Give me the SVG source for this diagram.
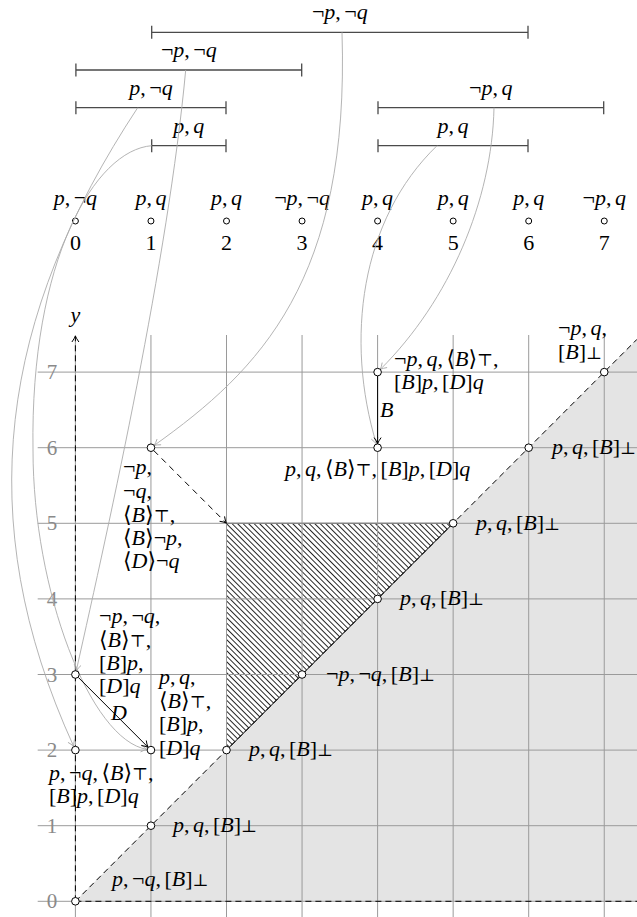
<svg xmlns="http://www.w3.org/2000/svg" width="637" height="917" viewBox="0 0 637 917">
<style>
.t{font-family:"Liberation Serif","DejaVu Serif",serif;font-size:22px;word-spacing:-2px;fill:#000}
.i{font-style:italic}
.s{font-family:"DejaVu Serif","DejaVu Sans",serif;font-size:17px;font-style:normal}
.c{text-anchor:middle}
.g{fill:#8a8a8a;text-anchor:middle;font-size:21px}
.grid{stroke:#9a9a9a;stroke-width:1;fill:none}
.bar{stroke:#4a4a4a;stroke-width:1.3;fill:none}
.cur{stroke:#ababab;stroke-width:0.9;fill:none;marker-end:url(#ag)}
.edge{stroke:#000;stroke-width:1;fill:none;marker-end:url(#ab)}
.dash{stroke:#000;stroke-width:1;fill:none;stroke-dasharray:6 4}
.nd{fill:#fff;stroke:#000;stroke-width:1}
</style>
<defs>
<pattern id="hatch" patternUnits="userSpaceOnUse" width="3.9" height="10" patternTransform="rotate(-45)">
<line x1="0.5" y1="0" x2="0.5" y2="10" stroke="#000" stroke-width="0.85"/>
</pattern>
<marker id="ag" markerUnits="userSpaceOnUse" markerWidth="12" markerHeight="12" refX="0" refY="0" orient="auto" overflow="visible">
<path d="M-6,-3.5 Q-2.5,-1 0,0 Q-2.5,1 -6,3.5" fill="none" stroke="#ababab" stroke-width="0.9"/>
</marker>
<marker id="ab" markerUnits="userSpaceOnUse" markerWidth="12" markerHeight="12" refX="0" refY="0" orient="auto" overflow="visible">
<path d="M-6,-3.5 Q-2.5,-1 0,0 Q-2.5,1 -6,3.5" fill="none" stroke="#000" stroke-width="1" stroke-dasharray="none"/>
</marker>
</defs>

<rect width="637" height="917" fill="#fff"/>

<!-- background regions -->
<polygon points="75.4,901.3 637,339.3 637,901.3" fill="#e4e4e4"/>
<polygon points="226.5,523.3 453.15,523.3 226.5,750.1" fill="url(#hatch)" stroke="#000" stroke-width="1"/>

<!-- grid -->
<g id="grid" class="grid">
<line x1="75.4" y1="335" x2="75.4" y2="917"/>
<line x1="150.95" y1="335" x2="150.95" y2="917"/>
<line x1="226.5" y1="335" x2="226.5" y2="917"/>
<line x1="302.05" y1="335" x2="302.05" y2="917"/>
<line x1="377.6" y1="335" x2="377.6" y2="917"/>
<line x1="453.15" y1="335" x2="453.15" y2="917"/>
<line x1="528.7" y1="335" x2="528.7" y2="917"/>
<line x1="604.25" y1="335" x2="604.25" y2="917"/>
<line x1="37.7" y1="901.3" x2="637" y2="901.3"/>
<line x1="37.7" y1="825.7" x2="637" y2="825.7"/>
<line x1="37.7" y1="750.1" x2="637" y2="750.1"/>
<line x1="37.7" y1="674.5" x2="637" y2="674.5"/>
<line x1="37.7" y1="598.9" x2="637" y2="598.9"/>
<line x1="37.7" y1="523.3" x2="637" y2="523.3"/>
<line x1="37.7" y1="447.7" x2="637" y2="447.7"/>
<line x1="37.7" y1="372.1" x2="637" y2="372.1"/>
</g>
<g id="ylabels" class="t g">
<text x="52" y="908.3">0</text>
<text x="52" y="832.7">1</text>
<text x="52" y="757.1">2</text>
<text x="52" y="681.5">3</text>
<text x="52" y="605.9">4</text>
<text x="52" y="530.3">5</text>
<text x="52" y="454.7">6</text>
<text x="52" y="379.1">7</text>
</g>

<!-- axes -->
<g id="axes">
<line class="dash" x1="75.4" y1="901.3" x2="637" y2="901.3"/>
<line class="dash" x1="75.4" y1="901.3" x2="637" y2="339.3"/>
<line class="dash" x1="75.4" y1="901.3" x2="75.4" y2="336" marker-end="url(#ab)"/>
<text class="t i c" x="75.4" y="322">y</text>
</g>

<!-- intervals -->
<g id="iv1">
<path class="bar" d="M151.7,32.3 H528 M151.7,25.8 V38.8 M528,25.8 V38.8"/>
<text class="t c" x="339.8" y="19.3">¬<tspan class="i">p</tspan>, ¬<tspan class="i">q</tspan></text>
</g>
<g id="iv2">
<path class="bar" d="M75.9,70 H301.7 M75.9,63.5 V76.5 M301.7,63.5 V76.5"/>
<text class="t c" x="188.8" y="57">¬<tspan class="i">p</tspan>, ¬<tspan class="i">q</tspan></text>
</g>
<g id="iv3">
<path class="bar" d="M75.9,107.7 H226 M75.9,101.2 V114.2 M226,101.2 V114.2"/>
<text class="t c" x="151" y="94.7"><tspan class="i">p</tspan>, ¬<tspan class="i">q</tspan></text>
</g>
<g id="iv4">
<path class="bar" d="M151.7,145.7 H226 M151.7,139.2 V152.2 M226,139.2 V152.2"/>
<text class="t c" x="188.8" y="132.7"><tspan class="i">p</tspan>, <tspan class="i">q</tspan></text>
</g>
<g id="iv5">
<path class="bar" d="M378,107.7 H603.7 M378,101.2 V114.2 M603.7,101.2 V114.2"/>
<text class="t c" x="490.8" y="94.7">¬<tspan class="i">p</tspan>, <tspan class="i">q</tspan></text>
</g>
<g id="iv6">
<path class="bar" d="M378,145.7 H528 M378,139.2 V152.2 M528,139.2 V152.2"/>
<text class="t c" x="453" y="132.7"><tspan class="i">p</tspan>, <tspan class="i">q</tspan></text>
</g>

<!-- number line points -->
<g id="pt0"><circle class="nd" cx="75.4" cy="221" r="3"/><text class="t c" x="75.4" y="205"><tspan class="i">p</tspan>, ¬<tspan class="i">q</tspan></text><text class="t c" x="75.4" y="250">0</text></g>
<g id="pt1"><circle class="nd" cx="150.95" cy="221" r="3"/><text class="t c" x="150.95" y="205"><tspan class="i">p</tspan>, <tspan class="i">q</tspan></text><text class="t c" x="150.95" y="250">1</text></g>
<g id="pt2"><circle class="nd" cx="226.5" cy="221" r="3"/><text class="t c" x="226.5" y="205"><tspan class="i">p</tspan>, <tspan class="i">q</tspan></text><text class="t c" x="226.5" y="250">2</text></g>
<g id="pt3"><circle class="nd" cx="302.05" cy="221" r="3"/><text class="t c" x="302.05" y="205">¬<tspan class="i">p</tspan>, ¬<tspan class="i">q</tspan></text><text class="t c" x="302.05" y="250">3</text></g>
<g id="pt4"><circle class="nd" cx="377.6" cy="221" r="3"/><text class="t c" x="377.6" y="205"><tspan class="i">p</tspan>, <tspan class="i">q</tspan></text><text class="t c" x="377.6" y="250">4</text></g>
<g id="pt5"><circle class="nd" cx="453.15" cy="221" r="3"/><text class="t c" x="453.15" y="205"><tspan class="i">p</tspan>, <tspan class="i">q</tspan></text><text class="t c" x="453.15" y="250">5</text></g>
<g id="pt6"><circle class="nd" cx="528.7" cy="221" r="3"/><text class="t c" x="528.7" y="205"><tspan class="i">p</tspan>, <tspan class="i">q</tspan></text><text class="t c" x="528.7" y="250">6</text></g>
<g id="pt7"><circle class="nd" cx="604.25" cy="221" r="3"/><text class="t c" x="604.25" y="205">¬<tspan class="i">p</tspan>, <tspan class="i">q</tspan></text><text class="t c" x="604.25" y="250">7</text></g>

<!-- connectors -->
<g id="connectors">
<path class="cur" d="M137.7,107.7 C0.5,315.5 -30.5,518.5 73.7,746.4"/>
<path class="cur" d="M151.7,145.7 C95,150 30,260 33,450 C33,590 90,740 147,749.4"/>
<path class="cur" d="M185.7,70 C168,260 110,520 76.3,670.6"/>
<path class="cur" d="M342,32.3 C350,280 260,370 154.2,445.4"/>
<path class="cur" d="M494,107.7 C492,200 450,300 380.4,369.3"/>
<path class="cur" d="M437,145.7 C360,220 345,340 376.4,443.9"/>
<line class="edge" x1="377.6" y1="376" x2="377.6" y2="443.6"/>
<line class="edge" x1="78.3" y1="677.4" x2="148" y2="747.2"/>
<line class="edge" x1="153.8" y1="450.6" x2="226.3" y2="523.1" stroke-dasharray="6 5"/>
<text class="t i" x="380" y="417">B</text>
<text class="t i" x="111" y="719.5">D</text>
</g>

<!-- grid nodes -->
<g id="n00"><circle class="nd" cx="75.4" cy="901.3" r="3.8"/>
<text class="t" x="112" y="886"><tspan class="i">p</tspan>, ¬<tspan class="i">q</tspan>, [<tspan class="i">B</tspan>]<tspan class="s">⊥</tspan></text></g>
<g id="n11"><circle class="nd" cx="150.95" cy="825.7" r="3.8"/>
<text class="t" x="173" y="832"><tspan class="i">p</tspan>, <tspan class="i">q</tspan>, [<tspan class="i">B</tspan>]<tspan class="s">⊥</tspan></text></g>
<g id="n22"><circle class="nd" cx="226.5" cy="750.1" r="3.8"/>
<text class="t" x="249" y="756"><tspan class="i">p</tspan>, <tspan class="i">q</tspan>, [<tspan class="i">B</tspan>]<tspan class="s">⊥</tspan></text></g>
<g id="n33"><circle class="nd" cx="302.05" cy="674.5" r="3.8"/>
<text class="t" x="326" y="681">¬<tspan class="i">p</tspan>, ¬<tspan class="i">q</tspan>, [<tspan class="i">B</tspan>]<tspan class="s">⊥</tspan></text></g>
<g id="n44"><circle class="nd" cx="377.6" cy="598.9" r="3.8"/>
<text class="t" x="400" y="605"><tspan class="i">p</tspan>, <tspan class="i">q</tspan>, [<tspan class="i">B</tspan>]<tspan class="s">⊥</tspan></text></g>
<g id="n55"><circle class="nd" cx="453.15" cy="523.3" r="3.8"/>
<text class="t" x="476" y="530"><tspan class="i">p</tspan>, <tspan class="i">q</tspan>, [<tspan class="i">B</tspan>]<tspan class="s">⊥</tspan></text></g>
<g id="n66"><circle class="nd" cx="528.7" cy="447.7" r="3.8"/>
<text class="t" x="552" y="454"><tspan class="i">p</tspan>, <tspan class="i">q</tspan>, [<tspan class="i">B</tspan>]<tspan class="s">⊥</tspan></text></g>
<g id="n77"><circle class="nd" cx="604.25" cy="372.1" r="3.8"/>
<text class="t"><tspan x="558" y="335">¬<tspan class="i">p</tspan>, <tspan class="i">q</tspan>,</tspan><tspan x="558" y="359">[<tspan class="i">B</tspan>]<tspan class="s">⊥</tspan></tspan></text></g>
<g id="n47"><circle class="nd" cx="377.6" cy="372.1" r="3.8"/>
<text class="t"><tspan x="394" y="366">¬<tspan class="i">p</tspan>, <tspan class="i">q</tspan>, ⟨<tspan class="i">B</tspan>⟩<tspan class="s">⊤</tspan>,</tspan><tspan x="394" y="389">[<tspan class="i">B</tspan>]<tspan class="i">p</tspan>, [<tspan class="i">D</tspan>]<tspan class="i">q</tspan></tspan></text></g>
<g id="n46"><circle class="nd" cx="377.6" cy="447.7" r="3.8"/>
<text class="t c" x="377.6" y="476"><tspan class="i">p</tspan>, <tspan class="i">q</tspan>, ⟨<tspan class="i">B</tspan>⟩<tspan class="s">⊤</tspan>, [<tspan class="i">B</tspan>]<tspan class="i">p</tspan>, [<tspan class="i">D</tspan>]<tspan class="i">q</tspan></text></g>
<g id="n16"><circle class="nd" cx="150.95" cy="447.7" r="3.8"/>
<text class="t"><tspan x="123" y="474">¬<tspan class="i">p</tspan>,</tspan><tspan x="123" y="498">¬<tspan class="i">q</tspan>,</tspan><tspan x="123" y="522">⟨<tspan class="i">B</tspan>⟩<tspan class="s">⊤</tspan>,</tspan><tspan x="123" y="545">⟨<tspan class="i">B</tspan>⟩¬<tspan class="i">p</tspan>,</tspan><tspan x="123" y="568">⟨<tspan class="i">D</tspan>⟩¬<tspan class="i">q</tspan></tspan></text></g>
<g id="n03"><circle class="nd" cx="75.4" cy="674.5" r="3.8"/>
<text class="t"><tspan x="99" y="623">¬<tspan class="i">p</tspan>, ¬<tspan class="i">q</tspan>,</tspan><tspan x="99" y="647">⟨<tspan class="i">B</tspan>⟩<tspan class="s">⊤</tspan>,</tspan><tspan x="99" y="670">[<tspan class="i">B</tspan>]<tspan class="i">p</tspan>,</tspan><tspan x="99" y="693">[<tspan class="i">D</tspan>]<tspan class="i">q</tspan></tspan></text></g>
<g id="n12"><circle class="nd" cx="150.95" cy="750.1" r="3.8"/>
<text class="t"><tspan x="159" y="684"><tspan class="i">p</tspan>, <tspan class="i">q</tspan>,</tspan><tspan x="159" y="708">⟨<tspan class="i">B</tspan>⟩<tspan class="s">⊤</tspan>,</tspan><tspan x="159" y="731">[<tspan class="i">B</tspan>]<tspan class="i">p</tspan>,</tspan><tspan x="159" y="755">[<tspan class="i">D</tspan>]<tspan class="i">q</tspan></tspan></text></g>
<g id="n02"><circle class="nd" cx="75.4" cy="750.1" r="3.8"/>
<text class="t"><tspan x="49" y="780"><tspan class="i">p</tspan>, ¬<tspan class="i">q</tspan>, ⟨<tspan class="i">B</tspan>⟩<tspan class="s">⊤</tspan>,</tspan><tspan x="49" y="803">[<tspan class="i">B</tspan>]<tspan class="i">p</tspan>, [<tspan class="i">D</tspan>]<tspan class="i">q</tspan></tspan></text></g>
</svg>
